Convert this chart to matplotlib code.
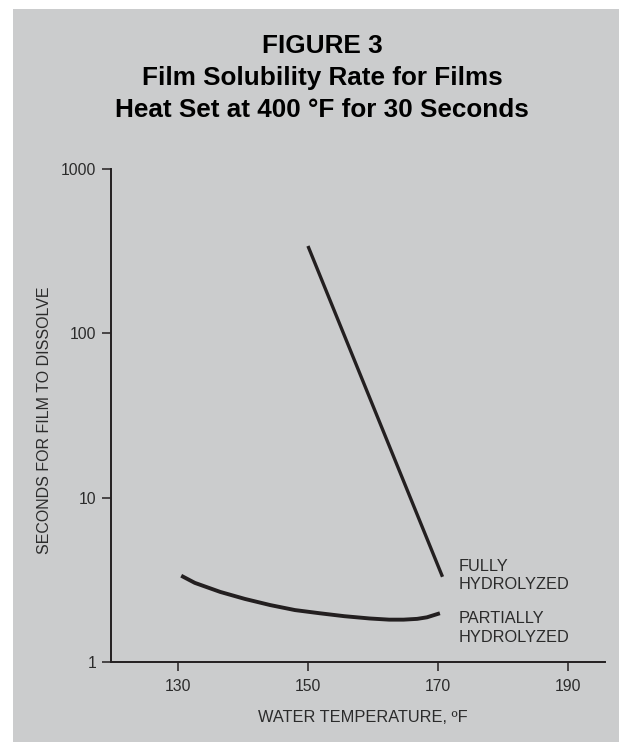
import matplotlib
matplotlib.use('Agg')
from matplotlib import pyplot as plt

plt.rcParams['font.family'] = ['Liberation Sans', 'DejaVu Sans']

# Data
fully_temp = [150.0, 170.7]
fully_sec = [340.0, 3.3]

partial_temp = [130.5, 132.6, 136.5, 140.3, 144.2, 148.0, 151.8, 155.6, 159.5, 162.5, 164.7, 166.8, 168.3, 170.3]
partial_sec = [3.35, 3.03, 2.67, 2.42, 2.22, 2.07, 1.98, 1.90, 1.84, 1.81, 1.81, 1.83, 1.87, 1.98]

x_ticks = [130, 150, 170, 190]
y_ticks = [1, 10, 100, 1000]
y_tick_labels = ['1', '10', '100', '1000']

title_lines = ['FIGURE 3', 'Film Solubility Rate for Films', 'Heat Set at 400 °F for 30 Seconds']
fully_label = ['FULLY', 'HYDROLYZED']
partial_label = ['PARTIALLY', 'HYDROLYZED']

ink = '#231f20'
txt_col = '#2b2b2b'
bg = '#cbcccd'
W, H = 619, 742

fig = plt.figure(figsize=(W / 100, H / 100), dpi=100)
fig.patch.set_facecolor('white')
# gray panel
fig.patches.append(plt.Rectangle((13 / W, 0), 1 - 13 / W, 1 - 9 / H, transform=fig.transFigure,
                                 facecolor=bg, edgecolor='none', zorder=-1))

ax = fig.add_axes([111 / W, 1 - 662 / H, (605 - 111) / W, (662 - 169) / H])
ax.set_facecolor('none')
ax.set_yscale('log')
ax.set_xlim(119.7, 195.7)
ax.set_ylim(1, 1000)

ax.plot(fully_temp, fully_sec, color=ink, lw=2.4, solid_capstyle='butt')
ax.plot(partial_temp, partial_sec, color=ink, lw=2.8, solid_capstyle='butt', solid_joinstyle='round')

for s in ['top', 'right']:
    ax.spines[s].set_visible(False)
for s in ['left', 'bottom']:
    ax.spines[s].set_color(ink)
    ax.spines[s].set_linewidth(1.4)

ax.set_xticks(x_ticks)
ax.set_xticklabels([str(t) for t in x_ticks])
ax.set_yticks(y_ticks)
ax.set_yticklabels(y_tick_labels)
ax.yaxis.set_minor_locator(matplotlib.ticker.NullLocator())
ax.tick_params(axis='both', direction='out', length=6.5, width=1.1, color=ink,
               labelsize=11.3, labelcolor=txt_col)
ax.tick_params(axis='x', pad=6)
ax.tick_params(axis='y', pad=4)

def px_y(p):
    return 1 - p / H

# curve labels
for txt, yb in zip(fully_label, [570.7, 589]):
    fig.text(459 / W, px_y(yb), txt, fontsize=11.8, color=txt_col, va='baseline', ha='left')
for txt, yb in zip(partial_label, [623.3, 641.7]):
    fig.text(459 / W, px_y(yb), txt, fontsize=11.8, color=txt_col, va='baseline', ha='left')

# title
for txt, yb in zip(title_lines, [53, 85, 117]):
    fig.text(322 / W, px_y(yb), txt, fontsize=18.8, fontweight='bold', color='black',
             ha='center', va='baseline')

fig.text(363 / W, px_y(717), 'WATER TEMPERATURE, ºF', fontsize=11.8, color=txt_col,
         ha='center', va='center')
fig.text(45 / W, px_y(420), 'SECONDS FOR FILM TO DISSOLVE', fontsize=11.5, color=txt_col,
         ha='center', va='center', rotation=90)

fig.savefig('out.png', dpi=100, facecolor=fig.get_facecolor())
